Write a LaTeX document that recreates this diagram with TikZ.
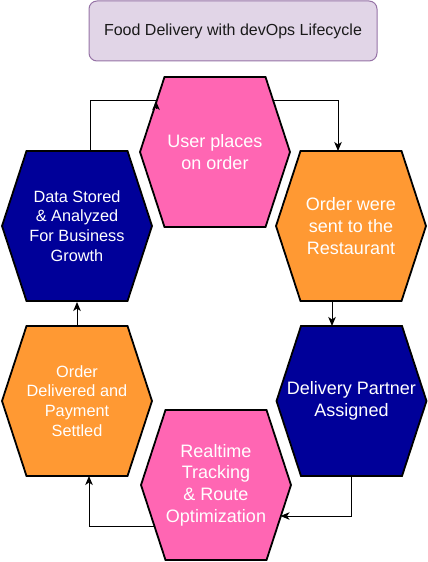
\documentclass[tikz,border=0pt]{standalone}
\usepackage{fontspec}
\setmainfont{Liberation Sans}
\usetikzlibrary{arrows.meta,calc}
\definecolor{pinkfill}{HTML}{FF66B3}
\definecolor{orangefill}{HTML}{FF9933}
\definecolor{bluefill}{HTML}{000099}
\definecolor{titlefill}{HTML}{E1D5E7}
\definecolor{titleline}{HTML}{9673A6}
\definecolor{titletext}{HTML}{1A1A1A}
\tikzset{
  hexline/.style={draw=black,line width=1.8bp,line join=miter},
  hextext/.style={text=white,align=center,inner sep=0pt},
  bigtext/.style={font=\fontsize{18bp}{21.6bp}\selectfont},
  smalltext/.style={font=\fontsize{16.3bp}{19.8bp}\selectfont},
  conn/.style={draw=black,line width=1bp},
  tip/.style={-{Stealth[length=9bp,width=7.5bp,inset=2.5bp]}},
  titlebox/.style={draw=titleline,fill=titlefill,line width=1bp,rounded corners=8bp,
    minimum width=288bp,minimum height=60bp,inner sep=0pt,text=titletext,
    font=\fontsize{16bp}{19bp}\selectfont}
}
\newcommand\hexnode[6]{% name, cx, cy, fill, text style, text
  \draw[hexline,fill=#4] (#2-75,#3) -- (#2-50.5,#3-75) -- (#2+50.5,#3-75) -- (#2+75,#3)
    -- (#2+50.5,#3+75) -- (#2-50.5,#3+75) -- cycle;
  \node[hextext,#5] (#1) at (#2,#3) {#6};}
\begin{document}
\begin{tikzpicture}[x=1bp,y=-1bp]
\useasboundingbox (0,0) rectangle (427,562);
\node[titlebox] (title) at (233,31) {Food Delivery with devOps Lifecycle};
\hexnode{user}{215}{152}{pinkfill}{bigtext}{User places\\on order}
\hexnode{sent}{351}{226}{orangefill}{bigtext}{Order were\\sent to the\\Restaurant}
\hexnode{partner}{351.5}{401}{bluefill}{bigtext}{Delivery Partner\\Assigned}
\hexnode{track}{216}{485}{pinkfill}{bigtext}{Realtime\\Tracking\\\& Route\\Optimization}
\hexnode{deliv}{77}{401}{orangefill}{smalltext}{Order\\Delivered and\\Payment\\Settled}
\hexnode{data}{77}{226}{bluefill}{smalltext}{Data Stored\\\& Analyzed\\For Business\\Growth}
% data -> user
\draw[conn] ($(data)+(13,-75)$) |- ($(user)+(-59,-51)$);
\draw[conn,tip] ($(user)+(-59,-43)$) -- ($(user)+(-59,-51)$);
% user -> sent
\draw[conn,tip] ($(user)+(58,-51)$) -| ($(sent)+(-13,-75)$);
% sent -> partner
\draw[conn,tip] ($(sent)+(-19,75)$) -- ($(partner)+(-19.5,-75)$);
% partner -> track
\draw[conn,tip] ($(partner)+(0,75)$) |- ($(track)+(64.5,31)$);
% track -> deliv
\draw[conn,tip] ($(track)+(-61,41)$) -| ($(deliv)+(12,75)$);
% deliv -> data
\draw[conn,tip] ($(deliv)+(0,-75)$) -- ($(data)+(0,76)$);
\end{tikzpicture}
\end{document}
